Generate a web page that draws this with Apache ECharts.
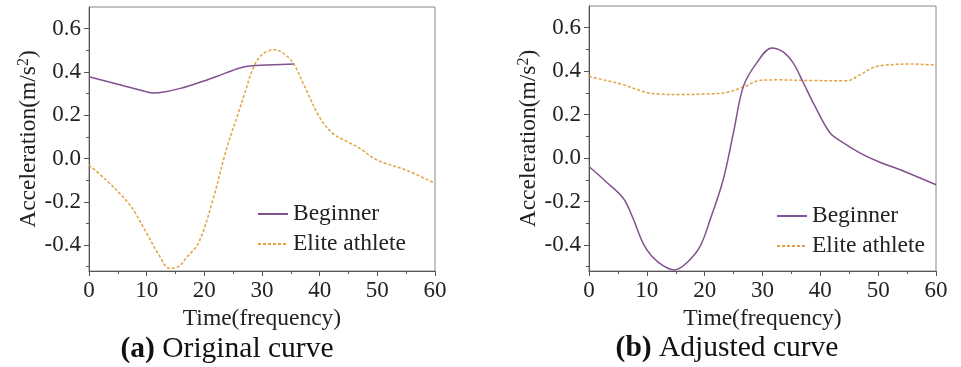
<!DOCTYPE html>
<html>
<head>
<meta charset="utf-8">
<script src="https://cdn.jsdelivr.net/npm/echarts@6/dist/echarts.min.js"></script>
<style>
html, body { margin: 0; padding: 0; background: #fff; }
#chart { width: 961px; height: 367px; }
</style>
</head>
<body>
<div id="chart"></div>
<script>
// (a) 原始曲线
var origBeginnerT = [0, 3, 6, 9, 11, 13, 16, 19, 22, 25, 27, 29, 32, 35.5];
var origBeginnerA = [0.378, 0.357, 0.336, 0.315, 0.303, 0.307, 0.325, 0.35, 0.378, 0.408, 0.424, 0.43, 0.433, 0.437];
var origEliteT = [0, 3, 6.5, 8, 10, 12, 14, 15.5, 17, 19, 21.5, 23.8, 25.9, 27, 28.5, 30, 32.2, 34, 35.5, 37.7, 40, 42.3, 45, 47, 50, 55, 60];
var origEliteA = [-0.03, -0.1, -0.195, -0.25, -0.346, -0.44, -0.508, -0.5, -0.455, -0.39, -0.19, 0.04, 0.21, 0.3, 0.42, 0.48, 0.503, 0.48, 0.437, 0.315, 0.19, 0.115, 0.075, 0.046, -0.008, -0.054, -0.115];
// (b) 调整后曲线
var adjBeginnerT = [0, 3, 5.9, 7.5, 9.65, 12, 14.85, 17, 19.2, 21, 23.2, 25, 26.7, 29, 31.6, 33.5, 35.3, 37, 38.8, 41.7, 44, 46.9, 50, 53.8, 60];
var adjBeginnerA = [-0.039, -0.11, -0.184, -0.27, -0.407, -0.48, -0.515, -0.48, -0.407, -0.28, -0.1, 0.12, 0.33, 0.438, 0.507, 0.49, 0.438, 0.35, 0.253, 0.115, 0.07, 0.023, -0.016, -0.054, -0.123];
var adjEliteT = [0, 3, 5.9, 9.9, 12, 15.7, 20, 23.8, 27, 29.6, 33, 38, 44.6, 46.9, 49, 50.9, 55.5, 60];
var adjEliteA = [0.376, 0.357, 0.338, 0.302, 0.295, 0.292, 0.295, 0.302, 0.33, 0.358, 0.36, 0.357, 0.356, 0.384, 0.415, 0.427, 0.433, 0.428];

// 刻度
var yMajor = [-0.4, -0.2, 0, 0.2, 0.4, 0.6];
var yMinor = [-0.5, -0.3, -0.1, 0.1, 0.3, 0.5];
var captions = ['{b|(a)} Original curve', '{b|(b)} Adjusted curve'];

var FONT = 'Liberation Serif';
var purple = '#82518f';
var orange = '#e3a13f';

function zip(t, a) {
    return t.map(function (v, i) { return [v, a[i]]; });
}

function xAxisFor(gi) {
    return {
        type: 'value', gridIndex: gi, min: 0, max: 60, interval: 10,
        name: 'Time(frequency)', nameLocation: 'middle', nameGap: 34,
        nameTextStyle: { fontFamily: FONT, fontSize: 23.5, color: '#222' },
        axisLine: { onZero: false, lineStyle: { color: '#555', width: 1 } },
        axisTick: { inside: false, length: 5, lineStyle: { color: '#555' } },
        minorTick: { show: true, splitNumber: 2, length: 3, lineStyle: { color: '#555' } },
        axisLabel: { fontFamily: FONT, fontSize: 23, color: '#222', margin: 8 },
        splitLine: { show: false }
    };
}

function yAxisMain(gi) {
    return {
        type: 'value', gridIndex: gi, min: -0.52, max: 0.7, position: 'left',
        name: 'Acceleration(m/s{sup|2})', nameLocation: 'middle', nameGap: 45,
        nameTextStyle: {
            fontFamily: FONT, fontSize: 23.5, color: '#222',
            rich: { sup: { fontFamily: FONT, fontSize: 16, color: '#222', verticalAlign: 'top', padding: [0, 0, 9, 0] } }
        },
        axisLine: { show: true, onZero: false, lineStyle: { color: '#555', width: 1 } },
        axisTick: { customValues: yMajor, length: 5, lineStyle: { color: '#555' } },
        axisLabel: {
            customValues: yMajor, fontFamily: FONT, fontSize: 23, color: '#222', margin: 8,
            formatter: function (v) { return v.toFixed(1); }
        },
        splitLine: { show: false }
    };
}

function yAxisMinor(gi) {
    return {
        type: 'value', gridIndex: gi, min: -0.52, max: 0.7, position: 'left',
        axisLine: { show: false, onZero: false },
        axisTick: { customValues: yMinor, length: 3, lineStyle: { color: '#555' } },
        axisLabel: { show: false },
        splitLine: { show: false }
    };
}

function lineSeries(name, data, xi, yi, color, dashed) {
    return {
        name: name, type: 'line', xAxisIndex: xi, yAxisIndex: yi,
        data: data, smooth: 0.35, showSymbol: false, symbol: 'none',
        lineStyle: { color: color, width: 1.5, type: dashed ? [3, 2] : 'solid' },
        itemStyle: { color: color },
        z: dashed ? 3 : 4
    };
}

function legendFor(left, top) {
    return {
        orient: 'vertical', left: left, top: top, itemGap: 6,
        itemWidth: 30, itemHeight: 14,
        itemStyle: { opacity: 0 },
        data: ['Beginner', 'Elite athlete'],
        textStyle: { fontFamily: FONT, fontSize: 23.5, color: '#222' }
    };
}

var chart = echarts.init(document.getElementById('chart'));
chart.setOption({
    backgroundColor: '#fff',
    animation: false,
    grid: [
        { left: 89, right: 526, top: 7, bottom: 96, show: true, borderColor: '#888', borderWidth: 1 },
        { left: 589, right: 25, top: 6, bottom: 96, show: true, borderColor: '#888', borderWidth: 1 }
    ],
    xAxis: [xAxisFor(0), xAxisFor(1)],
    yAxis: [yAxisMain(0), yAxisMinor(0), yAxisMain(1), yAxisMinor(1)],
    legend: [legendFor(252, 197), legendFor(771, 199)],
    series: [
        lineSeries('Beginner', zip(origBeginnerT, origBeginnerA), 0, 0, purple, false),
        lineSeries('Elite athlete', zip(origEliteT, origEliteA), 0, 0, orange, true),
        lineSeries('Beginner', zip(adjBeginnerT, adjBeginnerA), 1, 2, purple, false),
        lineSeries('Elite athlete', zip(adjEliteT, adjEliteA), 1, 2, orange, true)
    ],
    graphic: [
        {
            type: 'text', x: 227, y: 349,
            style: {
                text: captions[0], fontFamily: FONT, fontSize: 29.5, fill: '#111',
                align: 'center', verticalAlign: 'middle',
                rich: { b: { fontFamily: FONT, fontSize: 29.5, fontWeight: 'bold', fill: '#111' } }
            }
        },
        {
            type: 'text', x: 727, y: 348,
            style: {
                text: captions[1], fontFamily: FONT, fontSize: 29.5, fill: '#111',
                align: 'center', verticalAlign: 'middle',
                rich: { b: { fontFamily: FONT, fontSize: 29.5, fontWeight: 'bold', fill: '#111' } }
            }
        }
    ]
});
</script>
</body>
</html>
